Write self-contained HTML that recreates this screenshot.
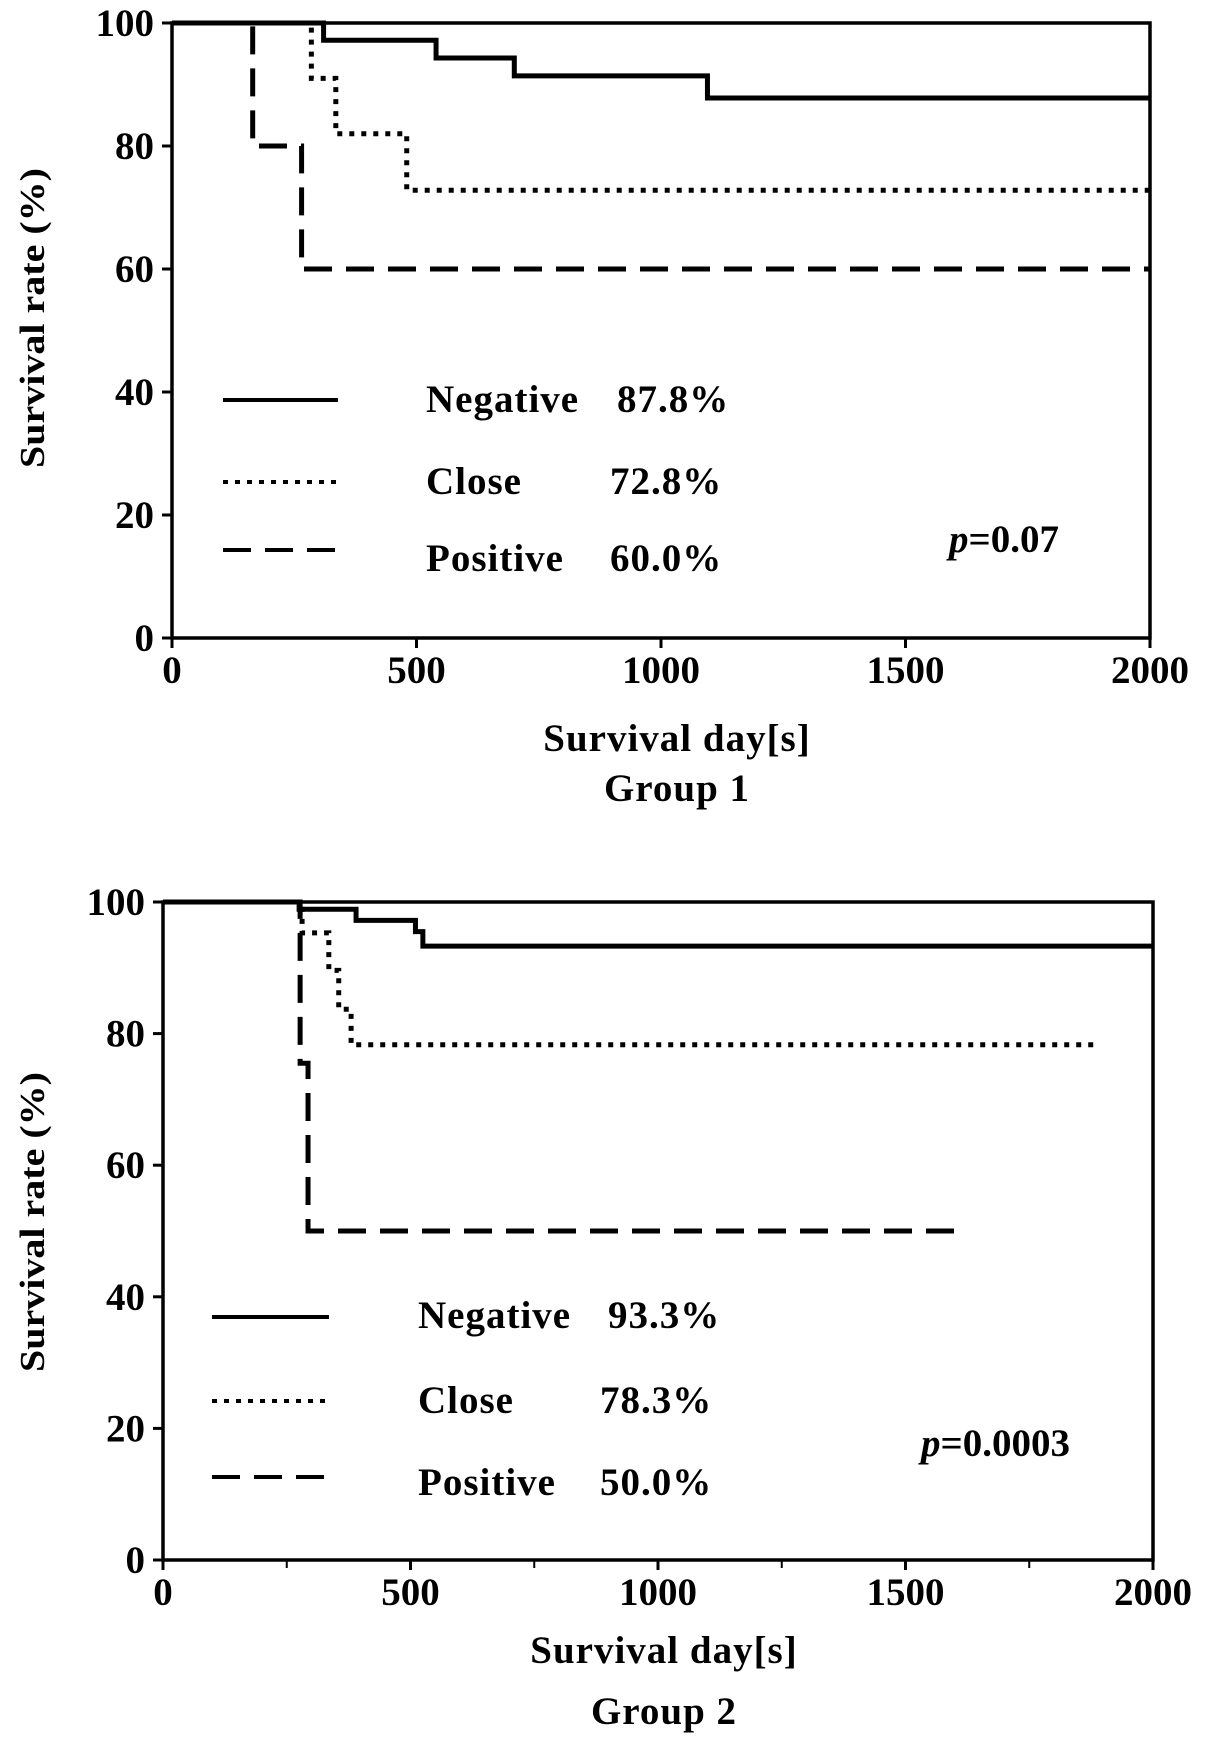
<!DOCTYPE html>
<html><head><meta charset="utf-8"><style>
html,body{margin:0;padding:0;background:#fff;width:1205px;height:1750px;overflow:hidden}
svg{display:block}
text{font-family:"Liberation Serif",serif;font-weight:bold;fill:#000}
</style></head><body>
<svg id="chart" width="1205" height="1750" viewBox="0 0 1205 1750"></svg>
<script>
const xTicks = [0, 500, 1000, 1500, 2000];
const yTicks = [0, 20, 40, 60, 80, 100];
const seriesNames = ["Negative", "Close", "Positive"];
// Group 1 step data: [day, survival%]
const g1Negative = [[0,100],[310,97.2],[540,94.3],[700,91.4],[1095,87.8],[2000,87.8]];
const g1Close = [[0,100],[285,91],[335,82],[480,72.8],[2000,72.8]];
const g1Positive = [[0,100],[165,80],[265,60],[2000,60]];
const g1Pct = ["87.8%", "72.8%", "60.0%"];
// Group 2
const g2Negative = [[0,100],[275,98.9],[390,97.2],[510,95.5],[525,93.3],[2000,93.3]];
const g2Close = [[0,100],[281,95.3],[335,89.6],[355,83.7],[380,78.3],[1890,78.3]];
const g2Positive = [[0,100],[277,75.5],[293,50],[1625,50]];
const g2Pct = ["93.3%", "78.3%", "50.0%"];

const NS = "http://www.w3.org/2000/svg";
const svg = document.getElementById("chart");
function mk(tag, attrs, parent){const e=document.createElementNS(NS,tag);for(const k in attrs)e.setAttribute(k,attrs[k]);(parent||svg).appendChild(e);return e;}
const styles = [{w:5,dash:""},{w:5,dash:"5 7"},{w:5,dash:"28 14"}];

function panel(cfg){
  const g = mk("g",{});
  
  
  const X = d => cfg.L + d/2000*(cfg.R-cfg.L);
  const Y = v => cfg.B - v/100*(cfg.B-cfg.T);
  const frame = mk("rect",{x:cfg.L,y:cfg.T,width:cfg.R-cfg.L,height:cfg.B-cfg.T,fill:"none",stroke:"#000","stroke-width":3.5},g);
  
  
  yTicks.forEach(v=>{
    mk("line",{x1:cfg.L-10,x2:cfg.L,y1:Y(v),y2:Y(v),stroke:"#000","stroke-width":3},g);
    const t = mk("text",{x:cfg.L-18,y:Y(v)+13,"text-anchor":"end","font-size":39},g);
    t.textContent = v;
    
    
  });
  xTicks.forEach(d=>{
    mk("line",{x1:X(d),x2:X(d),y1:cfg.B,y2:cfg.B+10,stroke:"#000","stroke-width":3},g);
    const t = mk("text",{x:X(d),y:cfg.B+45,"text-anchor":"middle","font-size":39},g);
    t.textContent = d;
    
    
  });
  if(cfg.minor){
    [250,750,1250,1750].forEach(d=>mk("line",{x1:X(d),x2:X(d),y1:cfg.B,y2:cfg.B+8,stroke:"#000","stroke-width":2},g));
  }
  cfg.series.forEach((s,i)=>{
    let dstr = "M"+X(s[0][0])+","+Y(s[0][1]);
    for(let k=1;k<s.length;k++){dstr += " H"+X(s[k][0])+" V"+Y(s[k][1]);}
    const p = mk("path",{d:dstr,fill:"none",stroke:"#000","stroke-width":styles[i].w,"stroke-dasharray":styles[i].dash},g);
    
    
    const ly = cfg.legY[i];
    const ll = mk("line",{x1:cfg.legX1,x2:cfg.legX2,y1:ly,y2:ly,stroke:"#000","stroke-width":styles[i].w-1,"stroke-dasharray":styles[i].dash},g);
    
    
    const t1 = mk("text",{x:cfg.legTX,y:cfg.legTY[i],"font-size":39,"letter-spacing":1},g);
    t1.textContent = seriesNames[i];
    
    
    const t2 = mk("text",{x:cfg.pctX[i],y:cfg.legTY[i],"font-size":39,"letter-spacing":1},g);
    t2.textContent = cfg.pct[i];
    
    
  });
  const pv = mk("text",{x:cfg.pX,y:cfg.pY,"font-size":39},g);
  pv.innerHTML = '<tspan font-style="italic">p</tspan>=' + cfg.p;
  
  
  const xt = mk("text",{x:cfg.xtX,y:cfg.xtY,"text-anchor":"middle","font-size":39,"letter-spacing":1},g);
  xt.textContent = "Survival day[s]";
  
  
  const gt = mk("text",{x:cfg.xtX,y:cfg.gtY,"text-anchor":"middle","font-size":39,"letter-spacing":1},g);
  gt.textContent = cfg.title;
  
  
  const yt = mk("text",{x:0,y:0,"text-anchor":"middle","font-size":35,transform:"translate(44,"+cfg.ytY+") rotate(-90)",textLength:300,lengthAdjust:"spacingAndGlyphs"},g);
  yt.textContent = "Survival rate (%)";
  
  
}

panel({name:"group-1-chart",L:172,R:1150,T:23,B:638,minor:false,
  series:[g1Negative,g1Close,g1Positive],pct:g1Pct,
  legX1:223,legX2:338,legY:[400,482,550],legTX:426,legTY:[412,494,571],pctX:[617,610,610],
  p:"0.07",pX:949,pY:552,xtX:677,xtY:751,gtY:801,ytY:318,title:"Group 1"});
panel({name:"group-2-chart",L:163,R:1153,T:902,B:1560,minor:true,
  series:[g2Negative,g2Close,g2Positive],pct:g2Pct,
  legX1:212,legX2:329,legY:[1317,1401,1477],legTX:418,legTY:[1328,1413,1495],pctX:[608,600,600],
  p:"0.0003",pX:921,pY:1456,xtX:664,xtY:1663,gtY:1724,ytY:1222,title:"Group 2"});
</script>
</body></html>
